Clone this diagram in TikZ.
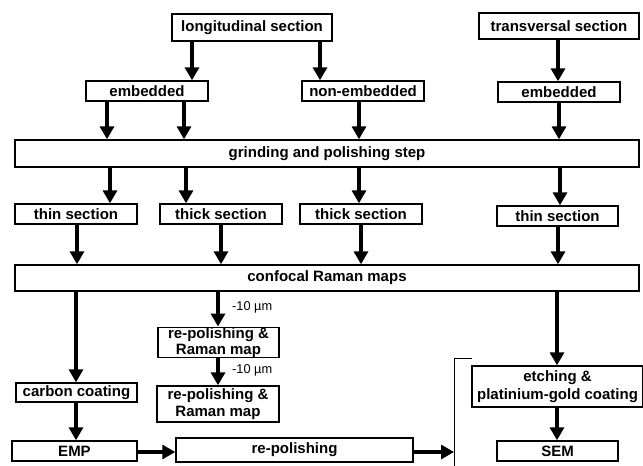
\documentclass[tikz,border=0pt]{standalone}
\usepackage{fontspec}
\setmainfont{Liberation Sans}
\usetikzlibrary{arrows.meta}

\tikzset{
    box/.style={draw, line width=1.4pt, inner sep=0pt, align=center,
        font=\fontsize{15}{16.5}\selectfont\bfseries},
    arr/.style={-{Triangle[width=14pt, length=13pt]}, line width=4pt},
    lbl/.style={anchor=west, inner sep=0pt, font=\fontsize{12.8}{14}\selectfont},
}

\begin{document}
\begin{tikzpicture}[x=1pt, y=-1pt]
            \useasboundingbox (0, 0) rectangle (643, 466);
            % sections
            \node[box, minimum width=160pt, minimum height=27pt] (lon) at (252, 27.5) {longitudinal section};
            \node[box, minimum width=160pt, minimum height=26pt] (tra) at (559, 26) {transversal section};
            \node[box, minimum width=122pt, minimum height=20pt] (embL) at (147, 91) {embedded};
            \node[box, minimum width=122pt, minimum height=20pt] (nonemb) at (363, 91) {non-embedded};
            \node[box, minimum width=122pt, minimum height=20pt] (embR) at (559, 92) {embedded};
            \node[box, minimum width=624pt, minimum height=27pt] (grind) at (327, 153.5) {grinding and polishing step};
            \node[box, minimum width=122pt, minimum height=20pt] (thinL) at (76, 214) {thin section};
            \node[box, minimum width=122pt, minimum height=20pt] (thickA) at (221, 214) {thick section};
            \node[box, minimum width=122pt, minimum height=20pt] (thickB) at (361, 214) {thick section};
            \node[box, minimum width=121pt, minimum height=20pt] (thinR) at (557.5, 216) {thin section};
            \node[box, minimum width=624pt, minimum height=26pt] (conf) at (327, 278) {confocal Raman maps};
            % lower part
            \node[box, minimum width=121pt, minimum height=29pt] (rpA) at (218.5, 342.5) {re-polishing \&\\Raman map};
            \node[box, minimum width=122pt, minimum height=36pt] (rpB) at (218, 404) {re-polishing \&\\Raman map};
            \node[box, minimum width=121pt, minimum height=19pt] (carb) at (76.5, 392.5) {carbon coating};
            \node[box, minimum width=125pt, minimum height=20pt] (emp) at (74.5, 451) {EMP};
            \node[box, minimum width=237pt, minimum height=24pt] (repol) at (294.5, 450) {re-polishing};
            \node[box, minimum width=171pt, minimum height=41pt] (etch) at (557.5, 386.5) {etching \&\\[2pt]platinium-gold coating};
            \node[box, minimum width=121pt, minimum height=20pt] (sem) at (557.5, 451) {SEM};
            \node[lbl] (dA) at (232, 307) {-10 µm};
            \node[lbl] (dB) at (232, 370) {-10 µm};
            % bracket
            \draw[line width=0.8pt] (454, 466) -- (454, 358) -- (472, 358);
            \coordinate (brk) at (454, 452);
            % arrows
            \draw[arr] (lon.south -| 192, 0) -- (embL.north -| 192, 0);
            \draw[arr] (lon.south -| 320, 0) -- (nonemb.north -| 320, 0);
            \draw[arr] (tra.south -| 558, 0) -- (embR.north -| 558, 0);
            \draw[arr] (embL.south -| 107, 0) -- (grind.north -| 107, 0);
            \draw[arr] (embL.south -| 184, 0) -- (grind.north -| 184, 0);
            \draw[arr] (nonemb.south -| 359, 0) -- (grind.north -| 359, 0);
            \draw[arr] (embR.south -| 559, 0) -- (grind.north -| 559, 0);
            \draw[arr] (grind.south -| 110, 0) -- (thinL.north -| 110, 0);
            \draw[arr] (grind.south -| 186, 0) -- (thickA.north -| 186, 0);
            \draw[arr] (grind.south -| 359, 0) -- (thickB.north -| 359, 0);
            \draw[arr] (grind.south -| 560, 0) -- (thinR.north -| 560, 0);
            \draw[arr] (thinL.south -| 77, 0) -- (conf.north -| 77, 0);
            \draw[arr] (thickA.south -| 221, 0) -- (conf.north -| 221, 0);
            \draw[arr] (thickB.south -| 361, 0) -- (conf.north -| 361, 0);
            \draw[arr] (thinR.south -| 558, 0) -- (conf.north -| 558, 0);
            \draw[arr] (conf.south -| 76, 0) -- (carb.north -| 76, 0);
            \draw[arr] (carb.south -| 76, 0) -- (emp.north -| 76, 0);
            \draw[arr] (conf.south -| 218, 0) -- (rpA.north -| 218, 0);
            \draw[arr] (rpA.south -| 218, 0) -- (rpB.north -| 218, 0);
            \draw[arr] (conf.south -| 557, 0) -- (etch.north -| 557, 0);
            \draw[arr] (etch.south -| 557, 0) -- (sem.north -| 557, 0);
            \draw[arr] (emp.east |- brk) -- (repol.west |- brk);
            \draw[arr] (repol.east |- brk) -- (brk);
        \end{tikzpicture}
\end{document}
